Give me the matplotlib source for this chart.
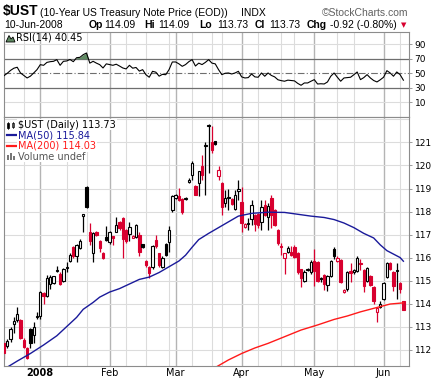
import numpy as np
import matplotlib
matplotlib.use("Agg")
import matplotlib.pyplot as plt
from matplotlib.lines import Line2D
from matplotlib.patches import Polygon, Rectangle

# ── Data: $UST daily candles, 14-Dec-2007 .. 10-Jun-2008 (trading-day index) ──
opens = [112.30, 112.17, 112.45, 113.10, 113.30, 113.30, 112.40, 112.05, 112.90, 112.65,
         113.40, 113.45, 114.47, 114.35, 114.85, 114.90, 115.40, 115.30, 115.00, 115.55,
         115.85, 116.44, 116.05, 116.40, 117.80, 119.08, 117.10, 116.20, 117.12, 116.70,
         116.20, 116.90, 116.66, 116.95, 117.12, 117.56, 117.73, 117.20, 117.02, 116.86,
         116.90, 116.98, 116.57, 115.85, 115.60, 115.60, 116.76, 116.18, 115.60, 116.59,
         116.66, 118.07, 118.60, 118.66, 118.56, 118.55, 119.30, 119.57, 119.10, 119.24,
         119.97, 120.85, 121.70, 121.03, 121.07, 119.53, 119.25, 118.36, 118.60, 118.54,
         118.10, 118.90, 118.43, 117.34, 117.45, 117.66, 117.85, 117.88, 117.56, 118.28,
         117.77, 118.57, 118.05, 117.20, 116.50, 116.00, 116.25, 116.25, 116.47, 116.20,
         115.49, 115.00, 115.45, 115.35, 115.85, 115.80, 115.12, 115.25, 114.80, 115.20,
         116.35, 115.85, 115.90, 114.50, 114.62, 115.40, 115.35, 115.40, 115.78, 115.45,
         115.00, 115.20, 114.70, 113.65, 113.85, 114.20, 115.15, 115.75, 115.35, 115.40,
         114.90, 114.09]
highs = [112.40, 112.45, 113.00, 113.40, 113.85, 113.35, 112.50, 112.10, 112.95, 113.20,
         113.65, 114.55, 114.50, 115.25, 115.25, 115.20, 115.65, 115.35, 115.55, 115.80,
         116.20, 116.50, 116.60, 116.80, 117.90, 119.10, 117.50, 117.10, 117.15, 116.75,
         116.25, 117.35, 117.15, 116.95, 117.78, 117.60, 117.78, 117.25, 117.55, 116.98,
         117.45, 117.12, 116.60, 115.90, 115.62, 116.55, 116.98, 116.20, 116.05, 116.65,
         117.38, 118.72, 118.75, 119.02, 118.60, 118.65, 119.46, 120.21, 119.15, 119.78,
         120.47, 121.00, 121.80, 121.70, 121.08, 119.97, 119.30, 118.93, 118.96, 118.60,
         118.95, 119.37, 119.08, 117.50, 117.70, 118.50, 117.90, 117.95, 118.50, 118.50,
         118.35, 118.70, 118.10, 117.25, 116.62, 116.20, 116.50, 116.50, 116.55, 116.25,
         115.50, 115.45, 115.55, 115.90, 116.35, 115.85, 115.15, 115.30, 115.25, 115.90,
         116.45, 116.05, 115.95, 114.62, 115.40, 115.75, 115.50, 116.05, 115.92, 115.50,
         115.60, 115.25, 114.75, 113.85, 114.10, 114.95, 115.80, 115.80, 115.40, 115.75,
         114.92, 114.09]
lows = [111.60, 112.05, 112.35, 112.70, 113.20, 112.45, 112.05, 111.60, 112.05, 112.30,
        113.35, 113.35, 114.00, 114.30, 114.65, 114.85, 115.35, 114.80, 114.95, 115.35,
        115.80, 116.00, 115.80, 116.35, 117.12, 118.15, 116.55, 115.80, 116.95, 116.25,
        115.95, 116.70, 116.60, 116.55, 117.10, 117.20, 116.00, 116.65, 116.70, 116.84,
        116.85, 116.08, 116.40, 115.60, 115.12, 115.50, 116.40, 115.60, 115.55, 116.05,
        116.25, 118.00, 118.55, 118.45, 117.90, 118.50, 119.24, 119.38, 118.70, 118.66,
        119.38, 118.70, 119.67, 120.55, 120.90, 119.38, 117.85, 118.20, 118.07, 118.30,
        118.05, 118.50, 117.12, 117.30, 117.20, 117.40, 117.17, 117.30, 117.20, 117.80,
        117.20, 117.30, 117.35, 116.55, 116.10, 115.30, 116.20, 116.05, 116.00, 115.30,
        114.70, 114.95, 115.40, 115.30, 114.75, 114.95, 114.95, 114.60, 114.55, 115.15,
        115.95, 115.80, 114.90, 114.48, 114.55, 114.95, 115.30, 115.35, 115.46, 114.50,
        114.95, 114.75, 114.00, 113.20, 113.80, 114.15, 115.10, 115.45, 114.55, 114.20,
        114.45, 113.73]
closes = [111.85, 112.37, 112.90, 113.25, 113.55, 112.50, 112.10, 111.65, 112.30, 113.00,
          113.45, 114.50, 114.33, 115.10, 115.17, 115.18, 115.45, 114.85, 115.50, 115.60,
          116.10, 116.05, 116.55, 116.70, 117.88, 118.20, 116.70, 117.05, 117.00, 116.40,
          116.00, 116.76, 117.10, 116.85, 117.40, 117.27, 116.80, 116.70, 117.34, 116.95,
          117.40, 116.25, 116.45, 115.68, 115.32, 116.52, 116.49, 115.68, 116.00, 116.10,
          117.20, 118.69, 118.72, 118.51, 117.98, 118.60, 119.35, 120.11, 118.73, 119.75,
          119.60, 120.90, 121.75, 120.67, 120.92, 119.82, 118.20, 118.57, 118.65, 118.33,
          118.72, 118.97, 117.50, 117.45, 117.52, 118.28, 117.45, 117.42, 118.20, 117.85,
          118.24, 117.85, 117.41, 116.62, 116.45, 116.18, 116.43, 116.10, 116.03, 115.35,
          115.10, 115.38, 115.50, 115.82, 115.40, 115.00, 115.05, 114.85, 115.20, 115.85,
          116.05, 116.00, 114.95, 114.60, 115.35, 115.33, 115.45, 116.00, 115.72, 114.75,
          115.55, 114.80, 114.10, 113.80, 114.00, 114.90, 115.75, 115.50, 114.75, 115.45,
          114.65, 113.73]
prior_close = 112.35   # close of the day before the first candle

# Moving averages (trading-day index, value)
ma50_idx = [0, 4, 8, 12, 16, 19, 22, 24, 27, 29, 32, 35, 38, 41, 44, 47, 50, 53, 55,
            57, 59, 62, 65, 68, 71, 75, 80, 85, 89, 93, 97, 100, 103, 106, 109, 112,
            114, 116, 118, 120, 121]
ma50_val = [111.15, 111.50, 111.83, 112.20, 112.60, 113.00, 113.40, 113.75, 114.05,
            114.28, 114.50, 114.65, 114.85, 115.05, 115.15, 115.35, 115.60, 115.85,
            116.10, 116.45, 116.78, 117.05, 117.30, 117.55, 117.80, 117.92, 117.97,
            117.96, 117.88, 117.80, 117.74, 117.65, 117.50, 117.30, 117.05, 116.85,
            116.55, 116.30, 116.15, 116.00, 115.84]
ma200_idx = [64, 68, 72, 76, 80, 85, 90, 95, 100, 104, 108, 113, 117, 121]
ma200_val = [111.22, 111.55, 111.83, 112.07, 112.27, 112.56, 112.85, 113.07, 113.31,
             113.46, 113.64, 113.83, 113.98, 114.03]

# RSI(14), one value per trading day
rsi = [46.7, 50.0, 54.0, 57.0, 58.3, 50.4, 47.0, 43.5, 46.0, 50.4,
       55.0, 61.9, 61.0, 65.0, 66.0, 66.5, 68.8, 61.0, 66.5, 67.0,
       69.0, 66.0, 71.5, 72.0, 75.7, 78.0, 64.0, 66.5, 64.0, 61.9,
       57.3, 63.0, 62.0, 61.0, 62.5, 60.0, 57.3, 56.0, 61.0, 57.0,
       58.0, 53.0, 55.0, 48.0, 44.5, 52.7, 51.5, 46.0, 48.5, 48.0,
       55.0, 65.6, 65.6, 63.0, 59.6, 62.0, 66.0, 68.8, 60.0, 64.0,
       62.0, 65.0, 68.8, 64.0, 63.0, 55.0, 48.1, 50.0, 50.4, 49.0,
       50.4, 52.7, 45.0, 43.5, 44.0, 49.0, 45.0, 44.5, 50.4, 45.9,
       50.4, 47.0, 45.0, 41.0, 39.8, 39.0, 40.5, 40.0, 39.5, 36.0,
       33.4, 36.6, 36.6, 39.0, 41.2, 35.2, 35.5, 35.2, 38.0, 45.9,
       50.4, 44.5, 39.0, 43.5, 44.0, 44.5, 48.0, 51.8, 41.2, 44.0,
       48.1, 43.5, 40.0, 38.0, 41.0, 44.5, 53.6, 50.4, 45.9, 51.8,
       48.1, 40.45]

month_idx = [11, 32, 52, 72, 94, 115]
month_lbl = ["2008", "Feb", "Mar", "Apr", "May", "Jun"]
minor_idx = [6, 19, 25, 37, 43, 50, 57, 63, 66, 77, 84, 88, 101, 106, 120]
price_ticks = [112, 113, 114, 115, 116, 117, 118, 119, 120, 121]
rsi_ticks = [10, 30, 50, 70, 90]

# ── Style ──
RED = "#d8002f"
NAVY = "#1a1a9a"
MA_RED = "#ff1a1a"
GRID = "#dcdcdc"
MGRID = "#b4b4b4"
LEVEL = "#6e6e6e"
HEAD = "Liberation Sans"

W, H = 438, 381
fig = plt.figure(figsize=(W / 100, H / 100), dpi=100)
fig.patch.set_facecolor("white")


def px(x, y):
    return x / W, 1 - y / H


L, R = 3.5, 409.0
ax_rsi = fig.add_axes([L / W, 1 - 116.7 / H, (R - L) / W, (116.7 - 32) / H])
ax = fig.add_axes([L / W, 1 - 365.7 / H, (R - L) / W, (365.7 - 116.7) / H])

for a in (ax, ax_rsi):
    a.set_xlim(-0.15, 122.7)
    for i in minor_idx:
        a.axvline(i, color=GRID, lw=0.8, zorder=0)
    for i in month_idx:
        a.axvline(i, color=MGRID, lw=1.0, zorder=0)
    for s in a.spines.values():
        s.set_color("#8c8c8c")
        s.set_linewidth(0.8)
    a.yaxis.tick_right()
    a.tick_params(axis="y", which="both", length=2, width=0.6, color="#8c8c8c",
                  labelsize=6.5, pad=2, left=False)
    a.tick_params(axis="x", length=0)

# ── RSI panel ──
ax_rsi.set_ylim(-10, 107)
ax_rsi.set_yticks(rsi_ticks)
ax_rsi.set_xticks([])
for v in (90, 10):
    ax_rsi.axhline(v, color=GRID, lw=0.8, zorder=0)
for v in (70, 30):
    ax_rsi.axhline(v, color=LEVEL, lw=0.9, zorder=1)
ax_rsi.axhline(50, color=LEVEL, lw=0.8, ls="-.", dashes=(6, 2, 1, 2), zorder=1)
xr = np.arange(len(rsi))
rsi_arr = np.array(rsi)
ax_rsi.fill_between(xr, rsi_arr, 70, where=rsi_arr > 70, interpolate=True,
                    color="#5f8a62", lw=0, zorder=2)
ax_rsi.plot(xr, rsi_arr, color="black", lw=0.8, zorder=3)

# ── Price panel ──
ax.set_ylim(111.3, 122.12)
ax.set_yticks(price_ticks)
for v in range(112, 123):
    ax.axhline(v, color=GRID, lw=0.8, zorder=0)

prev = prior_close
for i, (o, h, l, c) in enumerate(zip(opens, highs, lows, closes)):
    col = RED if c < prev else "black"
    filled = c < o
    ax.vlines(i, l, h, color=col, lw=0.9, zorder=2)
    ax.bar(i, max(abs(c - o), 0.03), bottom=min(o, c), width=0.72,
           facecolor=col if filled else "white", edgecolor=col, lw=0.8, zorder=3)
    prev = c

ax.plot(ma50_idx, ma50_val, color=NAVY, lw=1.0, zorder=4)
ax.plot(ma200_idx, ma200_val, color=MA_RED, lw=1.0, zorder=4)

ax.set_xticks(month_idx)
ax.set_xticklabels(month_lbl, fontsize=7)
ax.tick_params(axis="x", pad=2)
ax.get_xticklabels()[0].set_fontweight("bold")

# ── Header text ──
def t(x, y, s, **kw):
    fig.text(x / W, 1 - y / H, s, va="baseline", **kw)

t(3, 15.5, "$UST", fontsize=10, fontweight="bold", family=HEAD)
t(39.5, 15.5, "(10-Year US Treasury Note Price (EOD))", fontsize=7.5, family=HEAD)
t(241, 15.5, "INDX", fontsize=7.5, family=HEAD)
t(408, 15.5, "\u00a9StockCharts.com", fontsize=7.5, color="#606060", ha="right", family=HEAD)

t(4, 27.5, "10-Jun-2008", fontsize=7.5, family=HEAD)
items = [(89, "Op", True), (104, "114.09", False), (144, "Hi", True), (158.5, "114.09", False),
         (199, "Lo", True), (217, "113.73", False), (255, "Cl", True), (269, "113.73", False),
         (306.5, "Chg", True), (330, "-0.92 (-0.80%)", False)]
for x, s, b in items:
    t(x, 27.5, s, fontsize=7.5, family=HEAD, fontweight="bold" if b else "normal")
t(401, 27.0, "\u25bc", fontsize=5, color=RED)

# RSI label with mountain icon
fig.add_artist(Polygon([px(6, 42), px(9, 35.5), px(11, 39), px(13, 37), px(15, 42)],
                       closed=True, facecolor="#5f8a62", edgecolor="black", lw=0.6))
t(16.5, 41, "RSI(14) 40.45", fontsize=7)

# Main legend
def lg(y, s, color):
    fig.text(18 / W, 1 - y / H, s, va="baseline", fontsize=7, color=color,
             bbox=dict(facecolor="white", edgecolor="none", pad=0.6))

lg(127.5, "$UST (Daily) 113.73", "black")
lg(138.5, "MA(50) 115.84", NAVY)
lg(148.8, "MA(200) 114.03", MA_RED)
lg(159.5, "Volume undef", "#555555")
# icons
fig.add_artist(Rectangle(px(6.5, 128), 2 / W, 5 / H, facecolor="black", edgecolor="black", lw=0.5))
fig.add_artist(Rectangle(px(11.5, 127), 2 / W, 4 / H, facecolor="white", edgecolor="black", lw=0.5))
fig.add_artist(Line2D([7.5 / W, 7.5 / W], [1 - 129 / H, 1 - 121.5 / H], color="black", lw=0.5))
fig.add_artist(Line2D([12.5 / W, 12.5 / W], [1 - 128 / H, 1 - 121.5 / H], color="black", lw=0.5))
fig.add_artist(Line2D([6.5 / W, 16 / W], [1 - 135.5 / H] * 2, color=NAVY, lw=1.6))
fig.add_artist(Line2D([6.5 / W, 16 / W], [1 - 145.8 / H] * 2, color=MA_RED, lw=1.6))
for bx, bh in [(6.5, 5), (9.5, 7), (12.5, 4)]:
    fig.add_artist(Rectangle(px(bx, 159.5), 2 / W, bh / H, facecolor="#777777", lw=0))

fig.savefig("out.png", dpi=100)
